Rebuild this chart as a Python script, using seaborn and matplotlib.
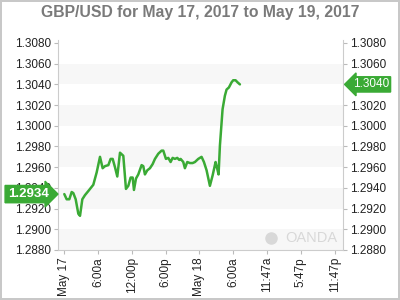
import matplotlib
matplotlib.use("Agg")
import matplotlib.pyplot as plt
import seaborn as sns
import pandas as pd
from matplotlib.transforms import blended_transform_factory

# ---- data (hours since May 17 00:00, GBP/USD rate) ----
hours = [0.00, 0.42, 0.89, 1.31, 1.60, 2.02, 2.49, 2.79, 3.20, 3.67, 4.27, 5.15,
         5.75, 6.34, 6.81, 7.22, 7.82, 8.23, 8.59, 9.00, 9.41, 9.89, 10.48, 10.95,
         11.37, 11.78, 12.14, 12.37, 12.73, 13.14, 13.73, 14.03, 14.32, 14.74, 15.21,
         15.69, 16.10, 16.69, 17.28, 17.58, 18.05, 18.47, 18.88, 19.24, 19.65, 20.06,
         20.42, 20.66, 21.13, 21.42, 21.84, 22.31, 22.79, 23.20, 23.79, 24.38, 24.80,
         25.27, 25.86, 26.34, 26.87, 27.05, 27.40, 27.64, 28.11, 28.52, 28.82, 29.23,
         29.71, 30.00, 30.42, 30.77, 31.19]
rates = [1.2934, 1.2929, 1.2929, 1.2936, 1.2935, 1.2929, 1.2915, 1.2913, 1.2929,
         1.2933, 1.2937, 1.2943, 1.2955, 1.2970, 1.2959, 1.2961, 1.2962, 1.2968,
         1.2968, 1.2960, 1.2951, 1.2974, 1.2971, 1.2939, 1.2942, 1.2950, 1.2950,
         1.2938, 1.2949, 1.2953, 1.2962, 1.2961, 1.2953, 1.2957, 1.2959, 1.2963,
         1.2968, 1.2973, 1.2976, 1.2976, 1.2968, 1.2969, 1.2965, 1.2969, 1.2968,
         1.2969, 1.2967, 1.2968, 1.2965, 1.2959, 1.2965, 1.2964, 1.2964, 1.2965,
         1.2968, 1.2970, 1.2965, 1.2957, 1.2942, 1.2952, 1.2965, 1.2961, 1.2953,
         1.2981, 1.3016, 1.3029, 1.3035, 1.3037, 1.3042, 1.3044, 1.3044, 1.3042,
         1.3040]
x_tick_pos = [0, 6, 12, 18, 24, 30, 36, 42, 48]
x_tick_labels = ["May 17", "6:00a", "12:00p", "6:00p", "May 18", "6:00a",
                 "11:47a", "5:47p", "11:47p"]
y_ticks = [1.2880, 1.2900, 1.2920, 1.2940, 1.2960, 1.2980, 1.3000, 1.3020,
           1.3040, 1.3060, 1.3080]
band_ranges = [(1.2880, 1.2900), (1.2920, 1.2940), (1.2960, 1.2980),
               (1.3000, 1.3020), (1.3040, 1.3060)]
open_value = 1.2934
last_value = 1.3040
title = "GBP/USD for May 17, 2017 to May 19, 2017"

GREEN = "#3aaa35"

sns.set_style("white")
plt.rcParams["font.family"] = ["Liberation Sans", "DejaVu Sans"]

fig = plt.figure(figsize=(4, 3), dpi=100)
fig.patch.set_facecolor("white")
fig.patch.set_edgecolor("#c8c8c8")
fig.patch.set_linewidth(1.5)
ax = fig.add_axes([0.145, 0.1667, 0.7125, 0.70])

for lo, hi in band_ranges:
    ax.axhspan(lo, hi, color="#f7f7f7", zorder=0, lw=0)

df = pd.DataFrame({"hours": hours, "rate": rates})
sns.lineplot(data=df, x="hours", y="rate", ax=ax, color=GREEN, linewidth=1.8,
             zorder=3)

ax.set_xlim(-1.12, 49.5)
ax.set_ylim(1.2880, 1.30829)
ax.set_xlabel("")
ax.set_ylabel("")

ax.set_xticks(x_tick_pos)
ax.set_xticklabels(x_tick_labels, rotation=90, fontsize=8.5, color="#222222")
ax.set_yticks(y_ticks)
ax.set_yticklabels([f"{v:.4f}" for v in y_ticks], fontsize=8.5, color="#222222")
ax.tick_params(axis="y", which="both", left=True, right=True, labelleft=True,
               labelright=True, length=3, width=0.8, color="#bbbbbb", pad=2)
ax.tick_params(axis="x", bottom=True, length=3, width=0.8, color="#bbbbbb", pad=2)

for s in ax.spines.values():
    s.set_color("#cccccc")
    s.set_linewidth(0.8)
ax.spines["top"].set_visible(False)

fig.text(0.5, 0.958, title, ha="center", va="center", fontsize=11.3,
         fontweight="bold", color="#7a7a7a")

# price tags
tr = blended_transform_factory(ax.transAxes, ax.transData)
ax.text(-0.033, open_value, f"{open_value:.4f}", transform=tr, ha="right",
        va="center", fontsize=9.5, fontweight="bold", color="white", zorder=6,
        clip_on=False,
        bbox=dict(boxstyle="rarrow,pad=0.2", fc=GREEN, ec=GREEN))
ax.text(1.034, last_value, f"{last_value:.4f}", transform=tr, ha="left",
        va="center", fontsize=8.5, color="white", zorder=6,
        clip_on=False,
        bbox=dict(boxstyle="larrow,pad=0.14", fc=GREEN, ec=GREEN))

# watermark
ax.text(0.979, 0.057, "OANDA", transform=ax.transAxes, ha="right", va="center",
        fontsize=10.5, color="#d8d8d8", zorder=1)
ax.plot([0.749], [0.057], marker="o", markersize=8, color="#d8d8d8",
        transform=ax.transAxes, zorder=1, clip_on=False)

fig.savefig("out.png", dpi=100, facecolor=fig.get_facecolor(),
            edgecolor=fig.get_edgecolor())
